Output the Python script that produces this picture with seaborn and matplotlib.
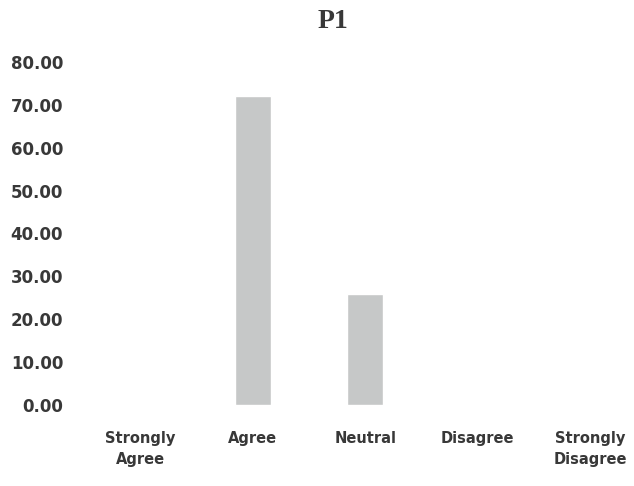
import pandas as pd
import seaborn as sns
import matplotlib
matplotlib.use("Agg")
import matplotlib.pyplot as plt

sns.set_theme(style="white")

categories = ["Strongly\nAgree", "Agree", "Neutral", "Disagree", "Strongly\nDisagree"]
percent = [0.0, 72.0, 26.0, 0.0, 0.0]
y_ticks = [0, 10, 20, 30, 40, 50, 60, 70, 80]

data = pd.DataFrame({"response": categories, "percent": percent})

text_color = "#383838"

fig = plt.figure(figsize=(6.34, 4.86), dpi=100)
ax = fig.add_axes([0.1325, 0.1667, 0.8675, 0.7057])

sns.barplot(data=data, x="response", y="percent", order=categories,
            color="#c6c8c8", saturation=1, width=0.32, ax=ax)

ax.set_ylim(0, 80)
ax.set_xlim(-0.5, 4.39)
ax.set_yticks(y_ticks)
ax.set_yticklabels(["{:.2f}".format(v) for v in y_ticks])
ax.set_xlabel("")
ax.set_ylabel("")
ax.tick_params(axis="y", length=0, pad=15, labelsize=12, labelcolor=text_color)
ax.tick_params(axis="x", length=0, pad=19, labelsize=10.5, labelcolor=text_color)
for lbl in ax.get_yticklabels() + ax.get_xticklabels():
    lbl.set_fontweight("heavy")
for lbl in ax.get_xticklabels():
    lbl.set_linespacing(1.5)
    lbl.set_verticalalignment("top")

sns.despine(ax=ax, left=True, bottom=True)

fig.text(0.525, 0.955, "P1", ha="center", va="center", fontsize=20,
         fontweight="bold", family="Liberation Serif", color=text_color)

fig.savefig("out.png", dpi=100)
